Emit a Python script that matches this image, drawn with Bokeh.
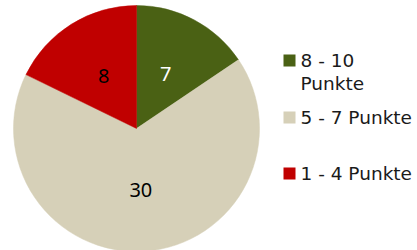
import math
from bokeh.plotting import figure
from bokeh.models import Range1d, ColumnDataSource
from bokeh.core.properties import value
from bokeh.embed import file_html
from bokeh.resources import INLINE

# Data (clockwise from 12 o'clock)
categories = ["8 - 10\nPunkte", "5 - 7 Punkte", "1 - 4 Punkte"]
counts = [7, 30, 8]
colors = ["#4A6114", "#D6D0B8", "#C00000"]
label_colors = ["#FFFFFF", "#000000", "#000000"]

W, H = 417, 250
p = figure(width=W, height=H, output_backend="svg", toolbar_location=None,
           x_range=Range1d(0, W), y_range=Range1d(0, H),
           x_axis_type=None, y_axis_type=None, min_border=0)
p.outline_line_color = None
p.grid.visible = False
p.background_fill_color = "white"

cx, cy, R = 136, H - 128, 123
total = sum(counts)
starts, ends, lx, ly = [], [], [], []
a = math.pi / 2
for c in counts:
    sweep = 2 * math.pi * c / total
    starts.append(a)
    ends.append(a - sweep)
    mid = a - sweep / 2
    lx.append(cx + 62 * math.cos(mid))
    ly.append(cy + 62 * math.sin(mid))
    a -= sweep

src = ColumnDataSource(dict(start=starts, end=ends, color=colors,
                            lx=lx, ly=ly, txt=[str(c) for c in counts],
                            tc=label_colors))
p.wedge(x=cx, y=cy, radius=R, start_angle="start", end_angle="end",
        direction="clock", fill_color="color", line_color="color",
        line_width=0.5, source=src)
p.text(x="lx", y="ly", text="txt", text_color="tc", source=src,
       text_font=value("Noto Sans"), text_font_size="20px",
       text_align="center", text_baseline="middle")

# Legend
key_y = [60, 117, 173]  # page y of square centers
for cat, col, ky in zip(categories, colors, key_y):
    p.rect(x=289, y=H - ky, width=12, height=12, fill_color=col,
           line_color=None)
    lines = cat.split("\n")
    base = ky + 7.5 - 8
    ys = [H - (base + i * 23) for i in range(len(lines))]
    p.text(x=[300] * len(lines), y=ys, text=lines,
           text_font=value("DejaVu Sans"), text_font_size="18.5px",
           text_color="#1a1a1a", text_align="left",
           text_baseline="alphabetic")

open("out.html", "w").write(file_html(p, INLINE))
